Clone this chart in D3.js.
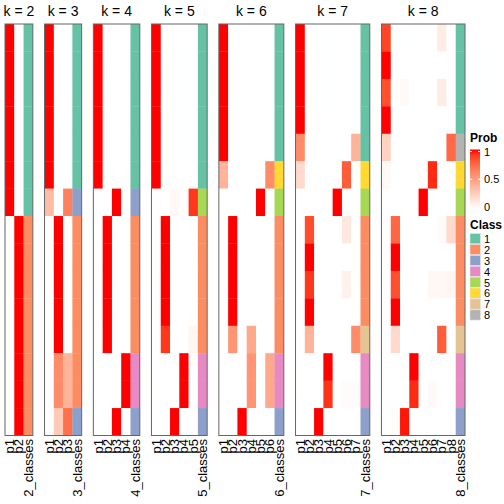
<!DOCTYPE html>
<html>
<head>
<meta charset="utf-8">
<script src="https://cdn.jsdelivr.net/npm/d3@7"></script>
<style>
html,body{margin:0;padding:0;background:#fff;}
svg{display:block;font-family:"Liberation Sans",Arial,Helvetica,sans-serif;}
</style>
</head>
<body>
<svg id="chart" width="504" height="504"></svg>
<script>
// ---- data (15 samples, rows top to bottom) ----
const kValues = [2, 3, 4, 5, 6, 7, 8];
const classLevels = ["1", "2", "3", "4", "5", "6", "7", "8"];
const classColors = ["#66C2A5", "#FC8D62", "#8DA0CB", "#E78AC3", "#A6D854", "#FFD92F", "#E5C494", "#B3B3B3"];
const probTicks = [0, 0.5, 1];

// membership probabilities: one array per column p1..pk
const probK2 = [
  [1,1,1,1,1,1,1,0,0,0,0,0,0,0,0],
  [0,0,0,0,0,0,0,1,1,1,1,1,1,1,1]
];
const classK2 = [1,1,1,1,1,1,1,2,2,2,2,2,2,2,2];

const probK3 = [
  [1,1,1,1,1,1,0.35,0,0,0,0,0,0,0,0],
  [0,0,0,0,0,0,0,1,1,1,1,1,0.6,0.6,0.28],
  [0,0,0,0,0,0,0.65,0,0,0,0,0,0.4,0.4,0.72]
];
const classK3 = [1,1,1,1,1,1,3,2,2,2,2,2,2,2,3];

const probK4 = [
  [1,1,1,1,1,1,0,0,0,0,0,0,0,0,0],
  [0,0,0,0,0,0,0,1,1,1,1,1,0,0,0],
  [0,0,0,0,0,0,1,0,0,0,0,0,0,0,1],
  [0,0,0,0,0,0,0,0,0,0,0,0,1,1,0]
];
const classK4 = [1,1,1,1,1,1,3,2,2,2,2,2,4,4,3];

const probK5 = [
  [1,1,1,1,1,1,0,0,0,0,0,0,0,0,0],
  [0,0,0,0,0,0,0,1,1,1,1,0.92,0,0,0],
  [0,0,0,0,0,0,0.04,0,0,0,0,0,0,0,1],
  [0,0,0,0,0,0,0,0,0,0,0,0,1,1,0],
  [0,0,0,0,0,0,0.92,0,0,0,0,0.05,0,0,0]
];
const classK5 = [1,1,1,1,1,1,5,2,2,2,2,2,4,4,3];

const probK6 = [
  [1,1,1,1,1,0.4,0,0,0,0,0,0,0,0,0],
  [0,0,0,0,0,0,0,1,1,1,1,0.55,0,0,0],
  [0,0,0,0,0,0,0,0,0,0,0,0,0,0,1],
  [0,0,0,0,0,0,0,0,0,0,0,0.45,0.55,0.55,0],
  [0,0,0,0,0,0,1,0,0,0,0,0,0,0,0],
  [0,0,0,0,0,0.6,0,0,0,0,0,0,0.45,0.45,0]
];
const classK6 = [1,1,1,1,1,6,5,2,2,2,2,2,4,4,3];

const probK7 = [
  [1,1,1,1,0.6,0.2,0,0,0,0,0,0,0,0,0],
  [0,0,0,0,0,0,0,0.86,1,0.92,1,0.4,0,0,0],
  [0,0,0,0,0,0,0,0,0,0,0,0,0,0,1],
  [0,0,0,0,0,0,0,0,0,0,0,0,1,0.93,0],
  [0,0,0,0,0,0,1,0,0,0,0,0,0,0,0],
  [0,0,0,0,0,0.8,0,0.12,0,0.07,0,0,0,0.02,0],
  [0,0,0,0,0.4,0,0,0,0,0,0,0.6,0,0.02,0]
];
const classK7 = [1,1,1,1,1,6,5,2,2,2,2,7,4,4,3];

const probK8 = [
  [0.88,1,0.85,1,0.24,0.03,0,0,0,0,0,0,0,0,0],
  [0,0,0,0,0,0,0,0.76,1,0.85,1,0.2,0,0,0.02],
  [0,0,0.03,0,0,0,0,0,0,0,0,0,0,0,0.98],
  [0,0,0,0,0,0,0,0,0,0,0,0,1,0.95,0],
  [0,0,0,0,0,0,1,0,0,0,0,0,0,0,0],
  [0,0,0,0,0,0.95,0,0,0,0.04,0,0,0,0.03,0],
  [0.1,0,0.1,0,0,0,0,0.02,0,0.04,0,0.8,0,0,0],
  [0,0,0,0,0.75,0,0,0.2,0,0.05,0,0,0,0,0]
];
const classK8 = [1,1,1,1,8,6,5,2,2,2,2,7,4,4,3];

const probByK = [probK2, probK3, probK4, probK5, probK6, probK7, probK8];
const classByK = [classK2, classK3, classK4, classK5, classK6, classK7, classK8];

// ---- drawing ----
const svg = d3.select("#chart");
const nRows = classK2.length;
const hmTop = 24, hmBottom = 435.5, hmLeft = 5, hmRight = 465, gap = 11.7;
const totalCols = d3.sum(kValues, k => k + 1);
const colW = (hmRight - hmLeft - gap * (kValues.length - 1)) / totalCols;

const y = d3.scaleBand().domain(d3.range(nRows)).range([hmTop, hmBottom]);
const probColor = d3.scaleLinear().domain([0, 1]).range(["white", "red"]).interpolate(d3.interpolateLab).clamp(true);
const classColor = d3.scaleOrdinal().domain(classLevels).range(classColors);

let x0 = hmLeft;
kValues.forEach((k, i) => {
  const cols = d3.range(1, k + 1).map(j => "p" + j).concat([k + "_classes"]);
  const w = cols.length * colW;
  const x = d3.scaleBand().domain(cols).range([x0, x0 + w]);
  const g = svg.append("g");

  // prob cells
  probByK[i].forEach((colVals, j) => {
    g.selectAll(null).data(colVals).enter().append("rect")
      .attr("x", x(cols[j]))
      .attr("y", (d, r) => y(r))
      .attr("width", x.bandwidth() + 0.3)
      .attr("height", y.bandwidth() + 0.3)
      .attr("fill", d => probColor(d));
  });
  // class cells
  g.selectAll(null).data(classByK[i]).enter().append("rect")
    .attr("x", x(cols[k]))
    .attr("y", (d, r) => y(r))
    .attr("width", x.bandwidth())
    .attr("height", y.bandwidth() + 0.3)
    .attr("fill", d => classColor(String(d)));

  // border
  g.append("rect")
    .attr("x", x0).attr("y", hmTop)
    .attr("width", w).attr("height", hmBottom - hmTop)
    .attr("fill", "none").attr("stroke", "#666").attr("stroke-width", 1);

  // title
  g.append("text")
    .attr("x", x0 + w / 2).attr("y", 16)
    .attr("text-anchor", "middle")
    .attr("font-size", 14)
    .text("k = " + k);

  // column labels
  g.selectAll(null).data(cols).enter().append("text")
    .attr("transform", d => `translate(${x(d) + x.bandwidth() / 2 + 4.5},439) rotate(-90)`)
    .attr("text-anchor", "end")
    .attr("font-size", 13)
    .text(d => d);

  x0 += w + gap;
});

// ---- legends ----
const lg = svg.append("g");
const lx = 470;
lg.append("text").attr("x", lx).attr("y", 142).attr("font-size", 12).attr("font-weight", "bold").text("Prob");
const defs = svg.append("defs");
const grad = defs.append("linearGradient").attr("id", "pg").attr("x1", 0).attr("x2", 0).attr("y1", 0).attr("y2", 1);
d3.range(0, 1.0001, 0.1).forEach(t => {
  grad.append("stop").attr("offset", t).attr("stop-color", probColor(1 - t));
});
const ly = d3.scaleLinear().domain([0, 1]).range([207, 151.5]);
lg.append("rect").attr("x", lx).attr("y", ly(1) - 2).attr("width", 10).attr("height", ly(0) - ly(1) + 4).attr("fill", "url(#pg)");
lg.selectAll(null).data(probTicks).enter().append("line")
  .attr("x1", lx).attr("x2", lx + 2).attr("y1", d => ly(d)).attr("y2", d => ly(d))
  .attr("stroke", "white").attr("stroke-width", 1);
lg.selectAll(null).data(probTicks).enter().append("line")
  .attr("x1", lx + 8).attr("x2", lx + 10).attr("y1", d => ly(d)).attr("y2", d => ly(d))
  .attr("stroke", "white").attr("stroke-width", 1);
lg.selectAll(null).data(probTicks).enter().append("text")
  .attr("x", lx + 14).attr("y", d => ly(d) + 4)
  .attr("font-size", 11)
  .text(d => d);

lg.append("text").attr("x", lx).attr("y", 229).attr("font-size", 12).attr("font-weight", "bold").text("Class");
const step = 10.9;
lg.selectAll(null).data(classLevels).enter().append("rect")
  .attr("x", lx).attr("y", (d, i) => 233.5 + i * step)
  .attr("width", 10.5).attr("height", step - 0.6)
  .attr("fill", d => classColor(d))
  .attr("stroke", "#e6e6e6").attr("stroke-width", 0.6);
lg.selectAll(null).data(classLevels).enter().append("text")
  .attr("x", lx + 14).attr("y", (d, i) => 233.5 + i * step + step / 2 + 4)
  .attr("font-size", 11)
  .text(d => d);
</script>
</body>
</html>
